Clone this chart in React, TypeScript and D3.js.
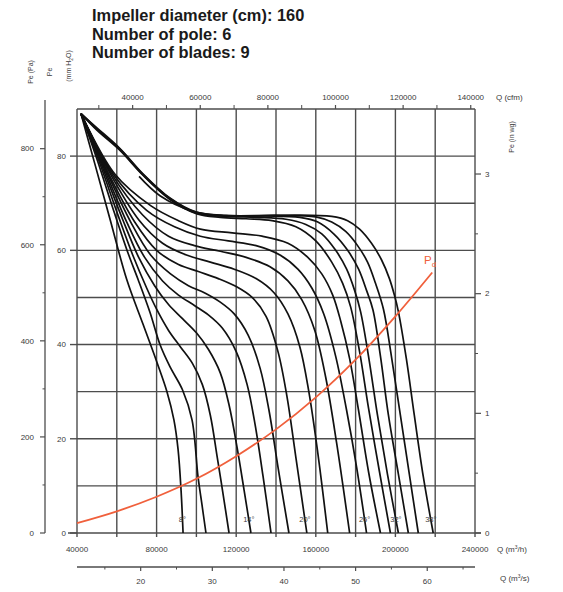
import React from "react";
import * as d3 from "d3";

const W = 563;
const H = 592;

// ---- axis / tick data ----
const Q_DOMAIN = [40000, 240000];
const PE_MM_DOMAIN = [0, 90];
const TICKS_M3H = [40000, 80000, 120000, 160000, 200000, 240000];
const GRID_M3H = [40000, 60000, 80000, 100000, 120000, 140000, 160000, 180000, 200000, 220000, 240000];
const TICKS_CFM = [40000, 60000, 80000, 100000, 120000, 140000];
const MINOR_CFM = [30000, 50000, 70000, 90000, 110000, 130000];
const TICKS_M3S = [20, 30, 40, 50, 60];
const MINOR_M3S = [15, 25, 35, 45, 55, 65];
const TICKS_PA = [0, 200, 400, 600, 800];
const MINOR_PA = [100, 300, 500, 700];
const TICKS_MM = [0, 20, 40, 60, 80];
const GRID_MM = [10, 20, 30, 40, 50, 60, 70, 80];
const TICKS_INWG = [0, 1, 2, 3];
const MINOR_INWG = [0.5, 1.5, 2.5];
const HEADER_LINES = ["Impeller diameter (cm): 160", "Number of pole: 6", "Number of blades: 9"];

// ---- curve data: [Q (x1000 m3/h), Pe (mm H2O)] ----
const BLADE_ANGLES = [8, 10, 12, 14, 16, 18, 20, 22, 24, 26, 28, 30, 32, 34, 36, 38];
const LABELED_ANGLES = [8, 14, 20, 26, 32, 38];

const curve08 = [[42,89],[49,78.3],[56.6,66.6],[65,53.8],[73.2,44.3],[80.2,36.2],[85.2,30],[88.7,24],[90.8,17.7],[92.3,9],[93.3,0]];
const curve10 = [[42,89],[50,79.4],[59,67.7],[66,59],[70.7,53.8],[76.7,46.8],[81.7,40],[86.7,35.3],[93,30.4],[97.8,24],[100.8,12],[102.8,6],[104.8,0]];
const curve12 = [[42,89],[51,79],[61,67],[68,59],[75,52],[80,47.5],[86,43],[92,39.5],[98,36],[103,31.5],[107,25],[110.5,16],[113.5,8],[116.4,0]];
const curve14 = [[42,89],[52,78.5],[63,66.5],[71,58.5],[79,52.5],[86,48.5],[93,45.5],[100,42.5],[106,39],[112,34],[116.5,27],[120.5,18],[124,9],[127.4,0]];
const curve16 = [[42,89],[53,78],[65,66],[74,58.5],[83,53.5],[91,50.5],[99,48.3],[106,46.3],[113,43.5],[120,38.5],[125.5,31.5],[129.5,23],[133.5,12],[137.5,0]];
const curve18 = [[42,89],[54,77.5],[67,66],[77,59],[87,55],[96,52.5],[104,51],[112,49],[119,46.5],[126,42],[132,35],[136.5,26],[141,14],[146.5,0]];
const curve20 = [[42,89],[55,77],[69,66],[80,60],[91,57],[101,55.5],[111,54],[120,52.3],[128,50],[135,46],[141,38.5],[145.5,29],[150,16],[155.5,0]];
const curve22 = [[42,89],[56,76.8],[71,66.5],[83,61.5],[95,59],[107,57.5],[119,56],[130,54],[139,51],[146,46.5],[152,39.5],[156.5,30],[161,17],[166,0]];
const curve24 = [[42,89],[57,76.5],[73,67.5],[86,63],[99,61],[112,59.8],[125,58.5],[137,56.5],[146,53.5],[153,49.5],[159.5,43],[165,33],[170.5,19],[177,0]];
const curve26 = [[42,89],[58,76.3],[75,68.5],[89,65],[102,63],[116,62],[130,61],[142,59],[151,56],[158,52],[164,46.5],[170,37.5],[175.5,26],[180.5,14],[185.5,0]];
const curve28 = [[42,89],[59,76.2],[77,69.5],[91,66.3],[102,64.5],[118,63.7],[133,63],[146,61.5],[156,58.5],[163,55],[168.5,50.5],[172.5,45],[177,37],[181.5,26],[186.5,13],[192.5,0]];
const curve30 = [[42,89],[50,85.5],[61.6,81.2],[73,76],[86.7,70.8],[100,67.8],[112,67],[125,66.7],[138,66.3],[150,65],[160,62],[168,57.5],[173.5,53],[177.5,48],[182,38.5],[186.5,26.5],[192,13],[197.5,0]];
const curve32 = [[42,89],[50,85.7],[61.6,81.4],[73,76.1],[86.7,70.9],[100,67.9],[115,67.2],[130,67],[145,66.6],[155,65.5],[163,63.5],[170,60],[175.5,56],[179.5,51.5],[182.5,47],[186.5,37.5],[191,25],[196,12.5],[201.5,0]];
const curve34 = [[42,89],[50,85.8],[61.6,81.5],[73,76.2],[86.7,71],[100,68],[115,67.3],[135,67.3],[152,67],[161,66],[169,63.5],[176,60],[181.5,56],[185.5,51.5],[188.7,47.4],[192.5,37.5],[196.5,25],[201.5,12.5],[206.5,0]];
const curve36 = [[42,89],[50,86],[61.6,81.6],[73,76.3],[86.7,71.1],[100,68.1],[115,67.4],[140,67.4],[160,67.1],[168,66],[175,64],[181,61],[186,57.5],[190,53],[194,47.5],[198,37.5],[202.5,25],[207,12.5],[211.5,0]];
const curve38 = [[71.2,75.7],[81.7,71.6],[98.3,68.3],[112,67.4],[130,67.3],[150,67.5],[168,67.2],[176,66.3],[182,64.5],[188,61.5],[193,58],[197,54],[199.5,50.5],[201.5,47],[205.5,37],[209.5,25],[214,12],[219,0]];

const CURVES = [curve08, curve10, curve12, curve14, curve16, curve18, curve20, curve22, curve24, curve26, curve28, curve30, curve32, curve34, curve36, curve38];

// dynamic pressure Pd
const PD_CURVE = [[40,2.1],[60,4.6],[80,7.7],[100,11.5],[120,16.3],[140,22],[160,28.8],[180,36.8],[200,46],[218.5,55.3]];

const FONT = "'Liberation Sans', Arial, Helvetica, sans-serif";
const GRID_COLOR = "#4d4d4d";
const TEXT_COLOR = "#3a3a3a";
const RED = "#f0603c";

export default function App() {
  const x = d3.scaleLinear().domain(Q_DOMAIN).range([77, 475]);
  const y = d3.scaleLinear().domain(PE_MM_DOMAIN).range([533, 109]);
  const yPa = d3.scaleLinear().domain([0, 90 * 9.80665]).range([533, 109]);
  const yIn = d3.scaleLinear().domain([0, 90 / 25.4]).range([533, 109]);
  const xCfm = d3.scaleLinear().domain([Q_DOMAIN[0] / 1.699, Q_DOMAIN[1] / 1.699]).range([77, 475]);
  const xM3s = d3.scaleLinear().domain([Q_DOMAIN[0] / 3600, Q_DOMAIN[1] / 3600]).range([77, 475]);

  const line = d3
    .line<number[]>()
    .x((d) => x(d[0] * 1000))
    .y((d) => y(d[1]))
    .curve(d3.curveCatmullRom.alpha(0.5));

  const fmt = (v: number) => String(v);

  const labelAt = (c: number[][], mm: number) => {
    for (let i = c.length - 1; i > 0; i--) {
      const a = c[i - 1], b = c[i];
      if (a[1] >= mm && b[1] <= mm) {
        const t = (a[1] - mm) / (a[1] - b[1]);
        return a[0] + t * (b[0] - a[0]);
      }
    }
    return c[c.length - 1][0];
  };

  const yTop = 109, yBot = 533;

  return (
    <svg width={W} height={H} style={{ position: "absolute", left: 0, top: 0, background: "#fff" }} fontFamily={FONT}>
      {/* header */}
      {HEADER_LINES.map((t, i) => (
        <text key={t} x={92} y={21 + i * 18.5} fontSize={16.4} fontWeight="bold" fill="#1a1a1a">{t}</text>
      ))}

      {/* left axis titles */}
      <text transform="translate(33,72) rotate(-90)" fontSize={7} fill={TEXT_COLOR} textAnchor="middle">Pe (Pa)</text>
      <text transform="translate(52,72) rotate(-90)" fontSize={7} fill={TEXT_COLOR} textAnchor="middle">Pe</text>
      <text transform="translate(71,66) rotate(-90)" fontSize={7} fill={TEXT_COLOR} textAnchor="middle">(mm H<tspan fontSize={5} dy={1.5}>2</tspan><tspan dy={-1.5}>O)</tspan></text>
      <text transform="translate(514,137) rotate(-90)" fontSize={7} fill={TEXT_COLOR} textAnchor="middle">Pe (in wg)</text>

      {/* horizontal grid */}
      {GRID_MM.map((v) => (
        <line key={"hg" + v} x1={x(Q_DOMAIN[0])} x2={x(Q_DOMAIN[1])} y1={y(v)} y2={y(v)} stroke={GRID_COLOR} strokeWidth={1.4} />
      ))}
      {/* vertical grid */}
      {GRID_M3H.map((v) => (
        <line key={"vg" + v} x1={x(v)} x2={x(v)} y1={yTop} y2={yBot + 4} stroke={GRID_COLOR} strokeWidth={1.4} />
      ))}
      {/* frame top and bottom */}
      <line x1={x(Q_DOMAIN[0])} x2={x(Q_DOMAIN[1])} y1={yTop} y2={yTop} stroke={GRID_COLOR} strokeWidth={1.4} />
      <line x1={68} x2={481} y1={yBot} y2={yBot} stroke={GRID_COLOR} strokeWidth={1.4} />

      {/* mm axis ticks and labels */}
      {TICKS_MM.map((v) => (
        <g key={"mm" + v}>
          <line x1={70} x2={77} y1={y(v)} y2={y(v)} stroke={GRID_COLOR} strokeWidth={1.4} />
          <text x={66} y={y(v)} dy="0.35em" fontSize={8} fill={TEXT_COLOR} textAnchor="end">{fmt(v)}</text>
        </g>
      ))}

      {/* Pa axis */}
      <line x1={45} x2={45} y1={100} y2={yBot} stroke={GRID_COLOR} strokeWidth={1.3} />
      {TICKS_PA.map((v) => (
        <g key={"pa" + v}>
          <line x1={40} x2={45} y1={yPa(v)} y2={yPa(v)} stroke={GRID_COLOR} strokeWidth={1.2} />
          <text x={34} y={yPa(v)} dy="0.35em" fontSize={8} fill={TEXT_COLOR} textAnchor="end">{fmt(v)}</text>
        </g>
      ))}
      {MINOR_PA.map((v) => (
        <line key={"pam" + v} x1={42.5} x2={45} y1={yPa(v)} y2={yPa(v)} stroke={GRID_COLOR} strokeWidth={1} />
      ))}

      {/* in wg axis */}
      {TICKS_INWG.map((v) => (
        <g key={"iw" + v}>
          <line x1={475} x2={481} y1={yIn(v)} y2={yIn(v)} stroke={GRID_COLOR} strokeWidth={1.2} />
          <text x={485} y={yIn(v)} dy="0.35em" fontSize={8} fill={TEXT_COLOR}>{fmt(v)}</text>
        </g>
      ))}
      {MINOR_INWG.map((v) => (
        <line key={"iwm" + v} x1={475} x2={478} y1={yIn(v)} y2={yIn(v)} stroke={GRID_COLOR} strokeWidth={1} />
      ))}

      {/* bottom m3/h labels */}
      {TICKS_M3H.map((v) => (
        <text key={"qh" + v} x={x(v)} y={552} fontSize={8} fill={TEXT_COLOR} textAnchor="middle">{fmt(v)}</text>
      ))}
      <text x={497} y={552} fontSize={8} fill={TEXT_COLOR}>Q (m<tspan fontSize={5} dy={-3}>3</tspan><tspan dy={3}>/h)</tspan></text>

      {/* m3/s axis */}
      <line x1={x(Q_DOMAIN[0])} x2={x(Q_DOMAIN[1])} y1={567} y2={567} stroke={GRID_COLOR} strokeWidth={1.3} />
      {TICKS_M3S.map((v) => (
        <g key={"qs" + v}>
          <line x1={xM3s(v)} x2={xM3s(v)} y1={567} y2={571} stroke={GRID_COLOR} strokeWidth={1.2} />
          <text x={xM3s(v)} y={584} fontSize={8} fill={TEXT_COLOR} textAnchor="middle">{fmt(v)}</text>
        </g>
      ))}
      {MINOR_M3S.map((v) => (
        <line key={"qsm" + v} x1={xM3s(v)} x2={xM3s(v)} y1={567} y2={569.5} stroke={GRID_COLOR} strokeWidth={1} />
      ))}
      <text x={500} y={581} fontSize={8} fill={TEXT_COLOR}>Q (m<tspan fontSize={5} dy={-3}>3</tspan><tspan dy={3}>/s)</tspan></text>

      {/* cfm axis on top */}
      {TICKS_CFM.map((v) => (
        <g key={"cf" + v}>
          <line x1={xCfm(v)} x2={xCfm(v)} y1={yTop} y2={yTop - 4} stroke={GRID_COLOR} strokeWidth={1.2} />
          <text x={xCfm(v)} y={100} fontSize={8} fill={TEXT_COLOR} textAnchor="middle">{fmt(v)}</text>
        </g>
      ))}
      {MINOR_CFM.map((v) => (
        <line key={"cfm" + v} x1={xCfm(v)} x2={xCfm(v)} y1={yTop} y2={yTop - 4} stroke={GRID_COLOR} strokeWidth={1} />
      ))}
      <text x={496} y={100} fontSize={8} fill={TEXT_COLOR}>Q (cfm)</text>

      {/* fan curves */}
      {CURVES.map((c, i) => (
        <path key={"c" + BLADE_ANGLES[i]} d={line(c as any) || ""} fill="none" stroke="#111" strokeWidth={1.7} />
      ))}

      {/* blade angle labels */}
      {LABELED_ANGLES.map((a) => {
        const c = CURVES[BLADE_ANGLES.indexOf(a)];
        const q = labelAt(c, 2.8);
        return (
          <text key={"l" + a} x={x(q * 1000)} y={y(2.8)} dy="0.35em" fontSize={7.5} fill={TEXT_COLOR} textAnchor="middle">{a}°</text>
        );
      })}

      {/* Pd curve */}
      <path d={line(PD_CURVE as any) || ""} fill="none" stroke={RED} strokeWidth={1.8} />
      <text x={424} y={264} fontSize={11.5} fill={RED}>P<tspan fontSize={8} dy={3}>d</tspan></text>
    </svg>
  );
}
